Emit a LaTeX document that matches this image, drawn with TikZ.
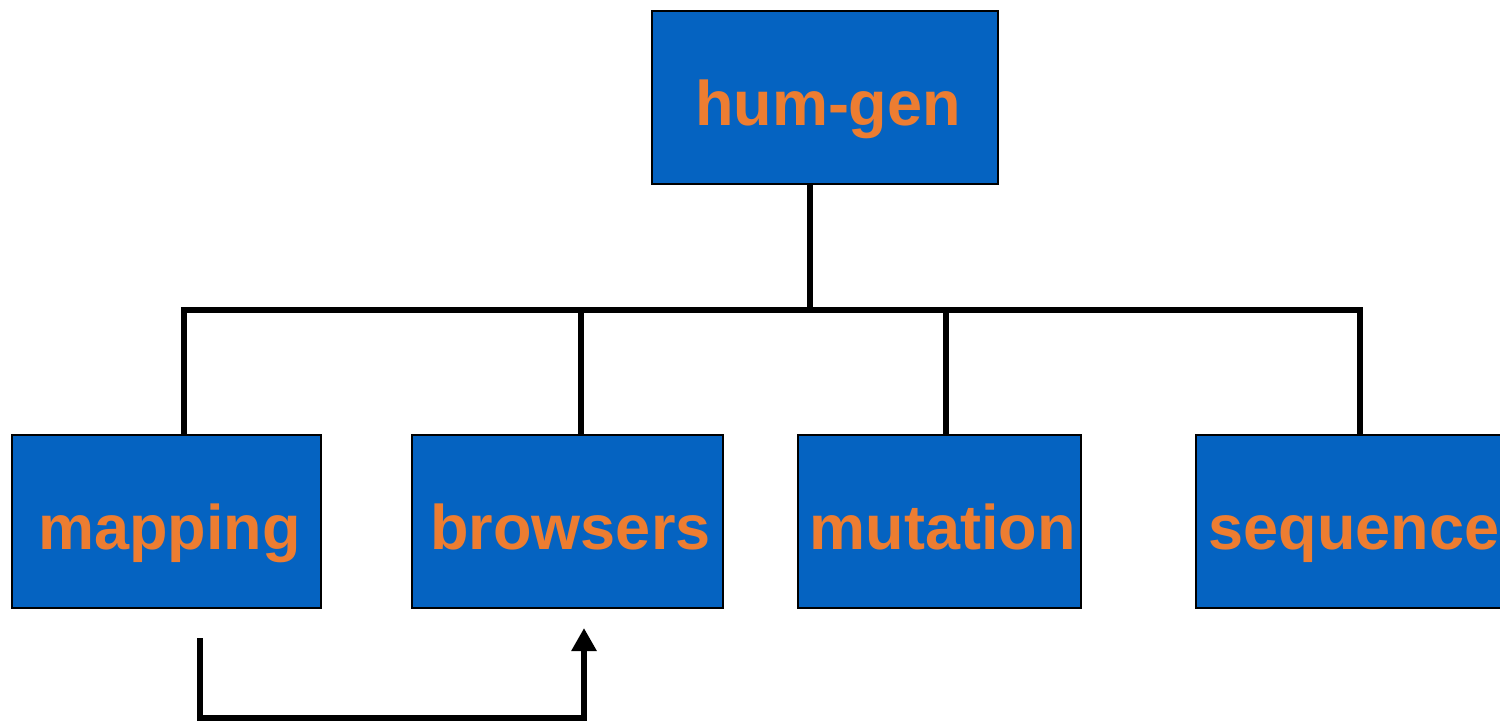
\documentclass[tikz,border=0pt]{standalone}
\usepackage{fontspec}
\setmainfont{Liberation Sans}
\usetikzlibrary{arrows.meta}
\definecolor{boxblue}{RGB}{5,99,193}
\definecolor{txtorange}{RGB}{237,125,49}
\begin{document}
\begin{tikzpicture}[x=1pt,y=-1pt,
  box/.style={draw=black,line width=1.5pt,fill=boxblue,text=txtorange,
    font=\fontsize{63}{70}\selectfont\bfseries,inner sep=0pt,
    minimum height=173pt,text height=64pt,text depth=9pt,
    execute at begin node=\hspace*{6pt}},
  conn/.style={draw=black,line width=6.5pt,line join=miter}]
\useasboundingbox (0,0) rectangle (1500,723);
\clip (0,0) rectangle (1500,723);
\node[box,minimum width=346pt] (hum) at (825,97.5) {hum-gen};
\node[box,minimum width=309pt] (map) at (166.5,521.5) {mapping};
\node[box,minimum width=311pt] (brow) at (567.5,521.5) {browsers};
\node[box,minimum width=283pt] (mut) at (939.5,521.5) {mutation};
\node[box,minimum width=310pt] (seq) at (1351,521.5) {sequence};
\coordinate (busL) at (184,310);
\coordinate (busR) at (1360,310);
\draw[conn] ([xshift=-15pt]hum.south) -- ([xshift=-15pt]hum.south |- busL);
\draw[conn] ([xshift=-3.25pt]busL) -- ([xshift=3.25pt]busR);
\draw[conn] (busL) -- (busL |- map.north);
\draw[conn] (busL -| 581,0) -- (581,0 |- brow.north);
\draw[conn] (busL -| 946,0) -- (946,0 |- mut.north);
\draw[conn] (busR) -- (busR |- seq.north);
\coordinate (mapout) at (200,638);
\coordinate (brin) at (584,628);
\coordinate (low) at (0,718);
\draw[conn,-{Triangle[length=23pt 0,width=24pt 0]}] (mapout) -- (mapout |- low) -- (brin |- low) -- (brin);
\end{tikzpicture}
\end{document}
